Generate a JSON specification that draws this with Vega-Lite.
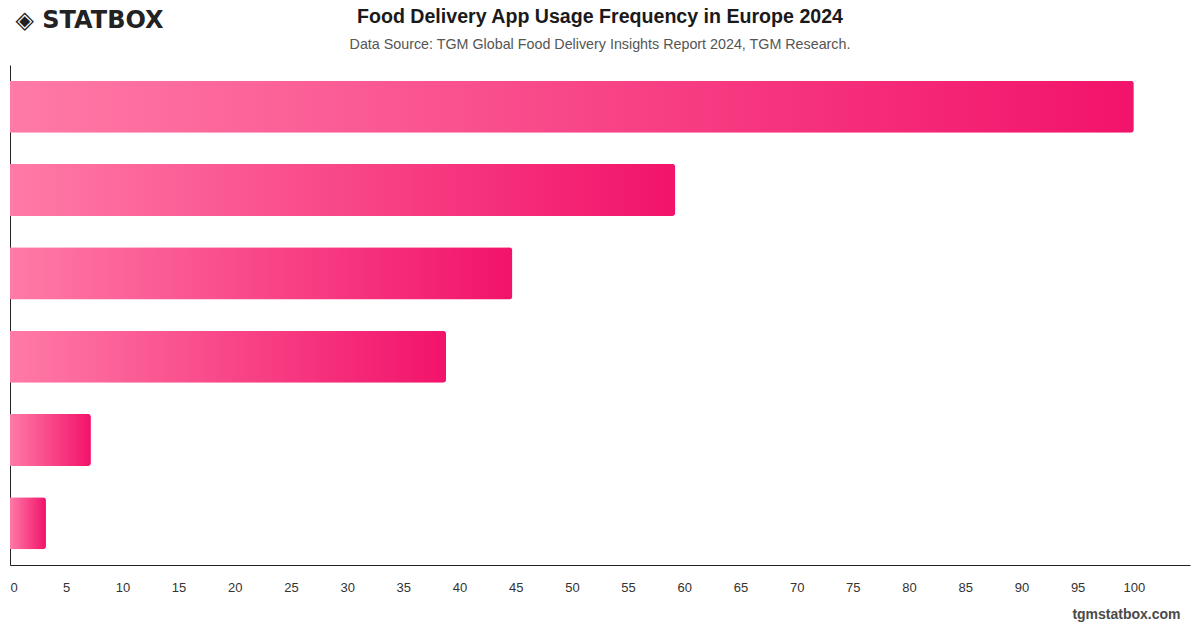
{
  "$schema": "https://vega.github.io/schema/vega-lite/v6.json",
  "width": 1180,
  "height": 500,
  "autosize": {"type": "none"},
  "padding": {"left": 10, "top": 65, "right": 10, "bottom": 63},
  "background": "#ffffff",
  "title": {
    "text": "Food Delivery App Usage Frequency in Europe 2024",
    "subtitle": "Data Source: TGM Global Food Delivery Insights Report 2024, TGM Research.",
    "anchor": "middle",
    "font": "Liberation Sans",
    "fontSize": 19.6,
    "fontWeight": "bold",
    "color": "#1a1a1a",
    "subtitleFont": "Liberation Sans",
    "subtitleFontSize": 14.3,
    "subtitleColor": "#555555",
    "subtitlePadding": 10,
    "offset": -45
  },
  "data": {
    "values": [
      {"item": 1, "value": 100},
      {"item": 2, "value": 59.2},
      {"item": 3, "value": 44.7},
      {"item": 4, "value": 38.8},
      {"item": 5, "value": 7.2},
      {"item": 6, "value": 3.2}
    ]
  },
  "mark": {
    "type": "bar",
    "cornerRadiusEnd": 3,
    "color": {
      "gradient": "linear",
      "x1": 0, "y1": 0, "x2": 1, "y2": 0,
      "stops": [
        {"offset": 0, "color": "#ff7aa7"},
        {"offset": 1, "color": "#f2136a"}
      ]
    }
  },
  "encoding": {
    "y": {
      "field": "item",
      "type": "ordinal",
      "sort": "ascending",
      "scale": {"paddingInner": 0.375, "paddingOuter": 0.1875},
      "axis": {
        "labels": false,
        "ticks": false,
        "grid": false,
        "domain": true,
        "domainColor": "#222222",
        "domainWidth": 1,
        "title": "◈ STATBOX",
        "titleAngle": 0,
        "titleAlign": "left",
        "titleBaseline": "middle",
        "titleX": 5,
        "titleY": -45,
        "titleFont": "DejaVu Sans",
        "titleFontSize": 24,
        "titleFontWeight": "bold",
        "titleColor": "#222222"
      }
    },
    "x": {
      "field": "value",
      "type": "quantitative",
      "scale": {"domain": [0, 105], "nice": false},
      "axis": {
        "values": [0, 5, 10, 15, 20, 25, 30, 35, 40, 45, 50, 55, 60, 65, 70, 75, 80, 85, 90, 95, 100],
        "grid": false,
        "ticks": false,
        "domainColor": "#222222",
        "domainWidth": 1,
        "labelFont": "Liberation Sans",
        "labelFontSize": 13,
        "labelColor": "#333333",
        "labelPadding": 16,
        "labelFlush": true,
        "title": "tgmstatbox.com",
        "titleAnchor": "end",
        "titleAlign": "right",
        "titleX": 1170,
        "titleFont": "Liberation Sans",
        "titleFontSize": 14,
        "titleFontWeight": "bold",
        "titleColor": "#4a4a4a",
        "titlePadding": 13
      }
    }
  },
  "config": {
    "view": {"stroke": null}
  }
}
